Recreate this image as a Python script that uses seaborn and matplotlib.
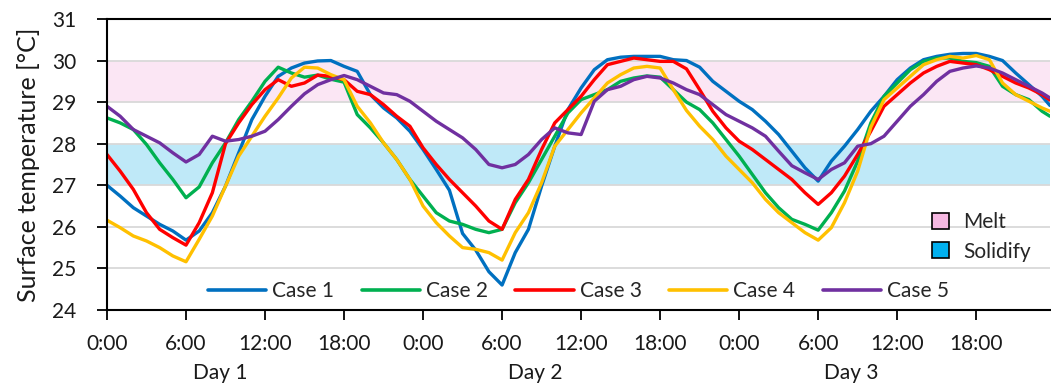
import numpy as np
import pandas as pd
import seaborn as sns
import matplotlib.pyplot as plt
import matplotlib.transforms as mtransforms
from matplotlib.patches import Patch

# ---- data: hourly surface temperatures over three days (hours from Day 1 0:00) ----
hours = list(range(72)) + [71.6]

case1 = [27.00, 26.74, 26.46, 26.26, 26.06, 25.90, 25.68, 25.90, 26.34, 26.98,
         27.78, 28.58, 29.14, 29.62, 29.82, 29.94, 29.99, 30.00, 29.86, 29.74,
         29.18, 28.86, 28.62, 28.30, 27.86, 27.38, 26.88, 25.84, 25.44, 24.92,
         24.60, 25.38, 25.94, 26.98, 27.94, 28.82, 29.34, 29.78, 30.02, 30.08,
         30.10, 30.10, 30.10, 30.02, 30.00, 29.84, 29.50, 29.26, 29.02, 28.82,
         28.54, 28.22, 27.82, 27.42, 27.10, 27.58, 27.94, 28.34, 28.78, 29.14,
         29.54, 29.82, 30.02, 30.10, 30.15, 30.17, 30.17, 30.10, 30.00, 29.70,
         29.42, 29.14, 28.92]

case2 = [28.62, 28.50, 28.34, 27.98, 27.54, 27.14, 26.70, 26.96, 27.54, 28.02,
         28.58, 29.02, 29.50, 29.84, 29.70, 29.60, 29.65, 29.55, 29.48, 28.70,
         28.38, 28.02, 27.62, 27.14, 26.74, 26.34, 26.14, 26.06, 25.94, 25.86,
         25.94, 26.58, 27.06, 27.62, 28.18, 28.74, 29.06, 29.18, 29.30, 29.50,
         29.58, 29.63, 29.60, 29.30, 29.00, 28.82, 28.50, 28.10, 27.70, 27.26,
         26.82, 26.46, 26.18, 26.06, 25.92, 26.34, 26.86, 27.58, 28.50, 29.14,
         29.46, 29.78, 29.98, 30.06, 30.06, 29.98, 29.95, 29.86, 29.38, 29.18,
         29.06, 28.78, 28.66]

case3 = [27.74, 27.34, 26.90, 26.34, 25.94, 25.74, 25.56, 26.10, 26.82, 28.00,
         28.50, 28.94, 29.30, 29.54, 29.38, 29.46, 29.65, 29.62, 29.54, 29.26,
         29.18, 28.94, 28.66, 28.42, 27.90, 27.50, 27.14, 26.82, 26.50, 26.14,
         25.94, 26.66, 27.14, 27.86, 28.50, 28.82, 29.14, 29.54, 29.90, 29.98,
         30.06, 30.02, 29.98, 29.98, 29.80, 29.30, 28.78, 28.38, 28.06, 27.86,
         27.62, 27.38, 27.14, 26.82, 26.54, 26.82, 27.22, 27.74, 28.30, 28.90,
         29.18, 29.46, 29.70, 29.86, 29.98, 29.94, 29.90, 29.78, 29.62, 29.46,
         29.34, 29.18, 29.05]

case4 = [26.16, 25.98, 25.78, 25.66, 25.50, 25.30, 25.16, 25.70, 26.26, 26.98,
         27.70, 28.18, 28.66, 29.10, 29.58, 29.84, 29.82, 29.66, 29.54, 28.90,
         28.50, 28.02, 27.62, 27.14, 26.50, 26.10, 25.78, 25.50, 25.46, 25.38,
         25.20, 25.86, 26.34, 27.06, 27.94, 28.34, 28.74, 29.10, 29.46, 29.66,
         29.82, 29.86, 29.82, 29.30, 28.80, 28.42, 28.10, 27.70, 27.38, 27.06,
         26.66, 26.34, 26.10, 25.86, 25.68, 25.98, 26.58, 27.34, 28.40, 29.06,
         29.34, 29.62, 29.90, 30.02, 30.10, 30.06, 30.12, 30.02, 29.46, 29.18,
         29.02, 28.86, 28.78]

case5 = [28.90, 28.66, 28.34, 28.18, 28.02, 27.78, 27.56, 27.74, 28.18, 28.06,
         28.10, 28.18, 28.30, 28.58, 28.90, 29.20, 29.42, 29.54, 29.64, 29.54,
         29.38, 29.22, 29.18, 29.02, 28.78, 28.54, 28.34, 28.14, 27.86, 27.50,
         27.42, 27.50, 27.74, 28.10, 28.38, 28.26, 28.22, 29.02, 29.30, 29.38,
         29.54, 29.62, 29.58, 29.46, 29.30, 29.18, 28.94, 28.70, 28.54, 28.38,
         28.18, 27.82, 27.47, 27.30, 27.14, 27.38, 27.54, 27.94, 28.00, 28.18,
         28.54, 28.90, 29.18, 29.50, 29.74, 29.82, 29.87, 29.82, 29.70, 29.54,
         29.38, 29.22, 29.10]

case_names = ["Case 1", "Case 2", "Case 3", "Case 4", "Case 5"]
case_colors = ["#0070C0", "#00B050", "#FF0000", "#FFC000", "#7030A0"]

melt_range = (29, 30)
solidify_range = (27, 28)

time_ticks = list(range(0, 72, 6))
time_labels = ["0:00", "6:00", "12:00", "18:00"] * 3
day_labels = ["Day 1", "Day 2", "Day 3"]
day_label_pos = [8.6, 32.5, 56.5]

# ---- long-form table for seaborn ----
series = [case1, case2, case3, case4, case5]
df = pd.concat(
    [pd.DataFrame({"hour": hours, "temp": vals, "case": name})
     for name, vals in zip(case_names, series)],
    ignore_index=True,
)

sns.set_style("white")
plt.rcParams["font.family"] = ["Lato", "DejaVu Sans"]

fig, ax = plt.subplots(figsize=(10.51, 3.87), dpi=100)
fig.subplots_adjust(left=0.1018, right=0.999, bottom=0.199, top=0.951)

# phase-change bands
ax.axhspan(*melt_range, color="#FBE6F4", zorder=0.2, lw=0)
ax.axhspan(*solidify_range, color="#BFE9F8", zorder=0.2, lw=0)

sns.lineplot(data=df, x="hour", y="temp", hue="case", palette=case_colors,
             hue_order=case_names, linewidth=2.4, ax=ax, legend=True)

ax.set_xlim(0, 71.6)
ax.set_ylim(24, 31)
ax.set_yticks(range(24, 32))
ax.set_xticks(time_ticks)
ax.set_xticklabels(time_labels)
ax.set_xlabel("")
ax.set_ylabel("Surface temperature [°C]", fontsize=18, labelpad=9,
              color="#1a1a1a")

ax.yaxis.grid(True, color="#D9D9D9", lw=1.3)
ax.xaxis.grid(False)
ax.set_axisbelow(True)

for side in ("left", "bottom", "top"):
    ax.spines[side].set_visible(True)
    ax.spines[side].set_color("black")
    ax.spines[side].set_linewidth(1.5)
ax.spines["right"].set_visible(False)

ax.tick_params(axis="both", which="major", direction="out", length=7, width=1.3,
               color="black", labelsize=15, bottom=True, left=True,
               labelcolor="#1a1a1a")
ax.tick_params(axis="x", pad=10)
ax.tick_params(axis="y", pad=15)

# day labels under the time-of-day ticks
trans = mtransforms.blended_transform_factory(ax.transData, ax.transAxes)
for pos, lab in zip(day_label_pos, day_labels):
    ax.text(pos, -0.218, lab, transform=trans, ha="center", va="center",
            fontsize=15, color="#1a1a1a")

# case legend along the bottom of the plot area
handles, labels = ax.get_legend_handles_labels()
leg1 = ax.legend(handles, labels, loc="lower center", bbox_to_anchor=(0.5, -0.005),
                 ncol=5, frameon=False, fontsize=15, handlelength=2.8,
                 columnspacing=1.3, handletextpad=0.3, borderaxespad=0.1)
for line in leg1.get_lines():
    line.set_linewidth(2.6)
ax.add_artist(leg1)

# band legend
band_handles = [Patch(facecolor="#F6B8E2", edgecolor="black", lw=1.2, label="Melt"),
                Patch(facecolor="#00B0F0", edgecolor="black", lw=1.2, label="Solidify")]
ax.legend(handles=band_handles, loc="upper left", bbox_to_anchor=(0.855, 0.40),
          frameon=False, fontsize=15, handlelength=0.8, handleheight=0.8,
          handletextpad=0.7, labelspacing=0.45)

fig.savefig("out.png", dpi=100)
